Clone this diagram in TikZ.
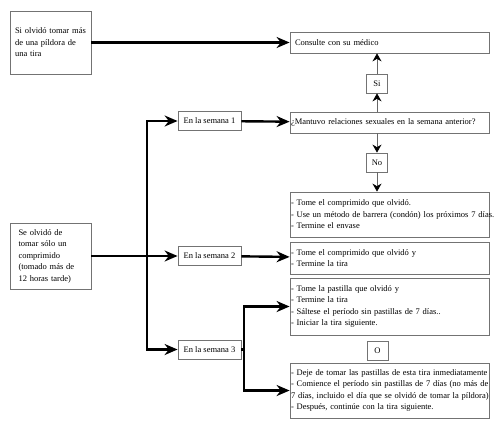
\documentclass[tikz,border=0pt]{standalone}
\usepackage{fontspec}
\setmainfont{Liberation Serif}
\usetikzlibrary{arrows.meta, positioning}

\begin{document}
\begin{tikzpicture}[x=1pt, y=-1pt, every node/.style={font=\fontsize{8.5}{11.5}\selectfont}]
\tikzstyle{caja} = [rectangle, draw=black!55, line width=0.8pt, inner ysep=1pt]
\tikzstyle{paso} = [caja, minimum width=199pt, text width=197pt, inner xsep=1pt, align=left]
\tikzstyle{semana} = [caja, minimum width=63pt, minimum height=19pt, inner xsep=2pt]
\tikzstyle{resp} = [caja, minimum width=21pt, minimum height=19pt, inner sep=1pt]
\tikzstyle{flecha} = [-{Stealth[length=13pt, width=11pt]}, line width=2.4pt]
\tikzstyle{linea} = [line width=2.4pt]
\tikzstyle{flechita} = [-{Stealth[length=8pt, width=9pt, black]}, draw=black!60, line width=0.8pt]

\useasboundingbox (0,0) rectangle (500,425);

% Nodes
\node[caja, minimum width=81pt, minimum height=63pt, text width=71pt, align=left] (olvA) at (50.5,42.5)
  {\makebox[71pt][s]{Si olvidó tomar más}\\ \makebox[71pt][s]{de una píldora de}\\ una tira};
\node[caja, minimum width=81pt, minimum height=66pt, text width=64pt, align=left] (olvB) at (50.5,256)
  {\makebox[64pt][s]{Se olvidó de}\\ \makebox[64pt][s]{tomar sólo un}\\ comprimido\\ \makebox[64pt][s]{(tomado más de}\\ 12 horas tarde)};

\node[paso, minimum height=21pt, text width=189pt, inner xsep=5pt] (consulte) at (389.5,42.5) {Consulte con su médico};
\node[resp] (si) at (377,83.5) {Si};
\node[paso, minimum height=21pt] (mantuvo) at (389.5,122.5) {¿Mantuvo relaciones sexuales en la semana anterior?};
\node[resp] (no) at (377,162.5) {No};

\node[semana] (sem1) at (209.5,121) {En la semana 1};
\node[semana] (sem2) at (209.5,256) {En la semana 2};
\node[semana] (sem3) at (209.5,349.5) {En la semana 3};

\node[paso, minimum height=45pt] (tomeA) at (389.5,214.5)
  {- Tome el comprimido que olvidó.\\ \mbox{- Use un método de barrera (condón) los próximos 7 días.}\\ - Termine el envase};
\node[paso, minimum height=32pt] (tomeB) at (389.5,258)
  {- Tome el comprimido que olvidó y\\ - Termine la tira};
\node[paso, minimum height=57pt] (tomeC) at (389.5,306.5)
  {- Tome la pastilla que olvidó y\\ - Termine la tira\\ - Sáltese el período sin pastillas de 7 días..\\ - Iniciar la tira siguiente.};
\node[resp] (oo) at (377.5,350.5) {O};
\node[paso, minimum height=55pt] (dejeD) at (389.5,390.5)
  {\mbox{- Deje de tomar las pastillas de esta tira inmediatamente}\\ \mbox{- Comience el período sin pastillas de 7 días (no más de}\\ \mbox{7 días, incluido el día que se olvidó de tomar la píldora)}\\ - Después, continúe con la tira siguiente.};

\coordinate (rama) at (147,256);
\coordinate (rama3) at (244,349.5);

% Arrows
\draw[flecha] (olvA) -- (consulte);
\draw[flecha] (olvB) -- (sem2);
\draw[flecha] (rama) |- (sem1);
\draw[flecha] (rama) |- (sem3);
\draw[flecha] (sem1) -- (mantuvo);
\draw[flecha] (sem2) -- (tomeB);
\draw[linea] (sem3) -- (rama3);
\draw[flecha] (rama3) |- (tomeC);
\draw[flecha] (rama3) |- (dejeD);

\draw[flechita] (si |- mantuvo.north) -- (si);
\draw[flechita] (si) -- (si |- consulte.south);
\draw[flechita] (no |- mantuvo.south) -- (no);
\draw[flechita] (no) -- (no |- tomeA.north);

\end{tikzpicture}
\end{document}
